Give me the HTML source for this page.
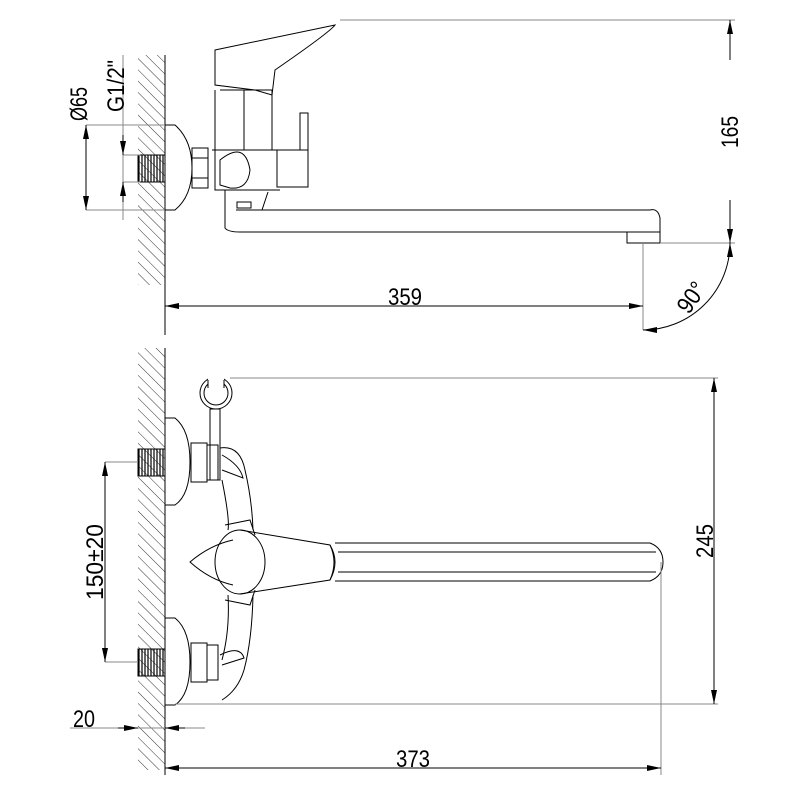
<!DOCTYPE html>
<html><head><meta charset="utf-8"><style>
html,body{margin:0;padding:0;background:#fff}
svg{display:block}
text{font-family:"Liberation Sans",sans-serif;font-size:24px;fill:#000}
</style></head><body>
<svg width="800" height="800" viewBox="0 0 800 800" xmlns="http://www.w3.org/2000/svg">
<defs>
<pattern id="h" width="8" height="8" patternUnits="userSpaceOnUse" patternTransform="rotate(-45)">
<line x1="0" y1="0" x2="0" y2="8" stroke="#000" stroke-width="0.8"/>
</pattern>
<pattern id="t" width="3" height="10" patternUnits="userSpaceOnUse">
<line x1="1" y1="0" x2="1" y2="10" stroke="#000" stroke-width="1.2"/>
</pattern>
<marker id="a" viewBox="0 0 14 6" refX="14" refY="3" markerWidth="14" markerHeight="6" markerUnits="userSpaceOnUse" orient="auto-start-reverse"><path d="M0,0L14,3L0,6z" fill="#000"/></marker>
</defs>
<g stroke="#000" fill="none" stroke-width="1">
<!-- TOP VIEW -->
<rect x="138" y="55" width="27" height="230" fill="url(#h)" stroke="none"/>
<line x1="165" y1="55" x2="165" y2="335"/>
<rect x="138" y="155" width="27" height="27" fill="url(#t)" stroke="#000"/>
<path d="M86,125H175 M86,210H175 M123,55V220 M123,155H140 M123,182H140" stroke="#888"/>
<line x1="86" y1="168" x2="86" y2="125" marker-end="url(#a)"/>
<line x1="86" y1="168" x2="86" y2="210" marker-end="url(#a)"/>
<line x1="123" y1="135" x2="123" y2="155" marker-end="url(#a)"/>
<line x1="123" y1="202" x2="123" y2="182" marker-end="url(#a)"/>
<path d="M165,125H175Q192,140 192,168Q192,196 175,210H165"/>
<rect x="192" y="148" width="16" height="40"/>
<path d="M192,158H208 M192,178H208"/>
<path d="M215,50L335,25Q330,32 275,70L272,95L255,90L215,85Z"/>
<path d="M220,90H272V150 M215,90V190H280 M244,90V150"/>
<path d="M212,150H280 M220,160Q245,140 250,170Q248,190 230,188L220,185Z"/>
<rect x="277" y="150" width="31" height="37"/>
<rect x="300" y="113" width="8" height="37"/>
<path d="M225,190V228Q228,232 240,232H660V218Q658,208 650,210H262L268,192"/>
<path d="M236,210H650"/>
<rect x="237" y="202" width="14" height="6"/>
<rect x="627" y="232" width="33" height="11"/>
<path d="M643,243V330 M660,243H735 M340,20H735" stroke="#888"/>
<line x1="730" y1="60" x2="730" y2="20" marker-end="url(#a)"/>
<line x1="730" y1="200" x2="730" y2="243" marker-end="url(#a)"/>
<line x1="400" y1="306" x2="165" y2="306" marker-end="url(#a)"/>
<line x1="400" y1="306" x2="643" y2="306" marker-end="url(#a)"/>
<path d="M730,243A87,87 0 0 1 643,330" marker-start="url(#a)" marker-end="url(#a)"/>
<!-- BOTTOM VIEW -->
<rect x="138" y="348" width="27" height="422" fill="url(#h)" stroke="none"/>
<line x1="165" y1="348" x2="165" y2="775"/>
<rect x="138" y="449" width="27" height="27" fill="url(#t)"/>
<rect x="138" y="649" width="27" height="27" fill="url(#t)"/>
<path d="M105,462H138 M105,662H138" stroke="#888"/>
<line x1="105" y1="560" x2="105" y2="462" marker-end="url(#a)"/>
<line x1="105" y1="560" x2="105" y2="662" marker-end="url(#a)"/>
<path d="M165,418H175Q190,430 190,462Q190,495 175,505H165"/>
<path d="M165,618H175Q190,630 190,662Q190,695 175,705H165"/>
<rect x="191" y="443" width="16" height="39"/><rect x="207" y="445" width="11" height="35"/>
<rect x="191" y="643" width="16" height="39"/><rect x="207" y="645" width="11" height="35"/>
<circle cx="216" cy="393" r="12"/>
<circle cx="216" cy="393" r="16"/>
<rect x="208" y="374" width="16" height="13" fill="#fff" stroke="none"/>
<path d="M208,380V388 M224,380V388"/>
<rect x="210" y="409" width="10" height="71"/>
<path d="M220,448Q240,445 245,470Q252,500 253,530 M222,455Q240,465 243,478L222,470"/>
<path d="M222,480Q230,520 228,530 M228,595Q230,630 222,660 M253,595Q252,640 244,670Q238,690 222,700"/>
<path d="M220,655Q240,645 244,658L222,665"/>
<path d="M225,525L250,520L255,535 M225,600L250,605L255,590"/>
<path d="M233,540Q210,545 190,562Q210,580 233,585"/>
<ellipse cx="240" cy="562" rx="25" ry="32"/>
<path d="M240,530L330,545Q340,562 330,580L240,594"/>
<path d="M330,545Q338,562 330,580"/>
<path d="M335,543H650Q663,548 663,562Q663,576 650,581H335 M338,552H656 M338,572H656"/>
<path d="M230,378H718 M175,704H718 M661,562V775" stroke="#888"/>
<line x1="714" y1="540" x2="714" y2="378" marker-end="url(#a)"/>
<line x1="714" y1="540" x2="714" y2="704" marker-end="url(#a)"/>
<path d="M70,728H205" stroke="#888"/>
<line x1="118" y1="728" x2="138" y2="728" marker-end="url(#a)"/>
<line x1="185" y1="728" x2="165" y2="728" marker-end="url(#a)"/>
<line x1="400" y1="768" x2="165" y2="768" marker-end="url(#a)"/>
<line x1="400" y1="768" x2="661" y2="768" marker-end="url(#a)"/>
</g>
<text transform="translate(87,104) rotate(-90)" text-anchor="middle" textLength="34" lengthAdjust="spacingAndGlyphs">Ø65</text>
<text transform="translate(124,86) rotate(-90)" text-anchor="middle" textLength="52" lengthAdjust="spacingAndGlyphs">G1/2"</text>
<text transform="translate(738,132) rotate(-90)" text-anchor="middle" textLength="32" lengthAdjust="spacingAndGlyphs">165</text>
<text x="405" y="305" text-anchor="middle" textLength="34" lengthAdjust="spacingAndGlyphs">359</text>
<text transform="translate(698,302) rotate(-55)" text-anchor="middle" textLength="32" lengthAdjust="spacingAndGlyphs">90°</text>
<text transform="translate(103,562) rotate(-90)" text-anchor="middle" textLength="76" lengthAdjust="spacingAndGlyphs">150±20</text>
<text transform="translate(713,541) rotate(-90)" text-anchor="middle" textLength="34" lengthAdjust="spacingAndGlyphs">245</text>
<text x="84" y="727" text-anchor="middle" textLength="22" lengthAdjust="spacingAndGlyphs">20</text>
<text x="413" y="767" text-anchor="middle" textLength="34" lengthAdjust="spacingAndGlyphs">373</text>
</svg>
</body></html>
